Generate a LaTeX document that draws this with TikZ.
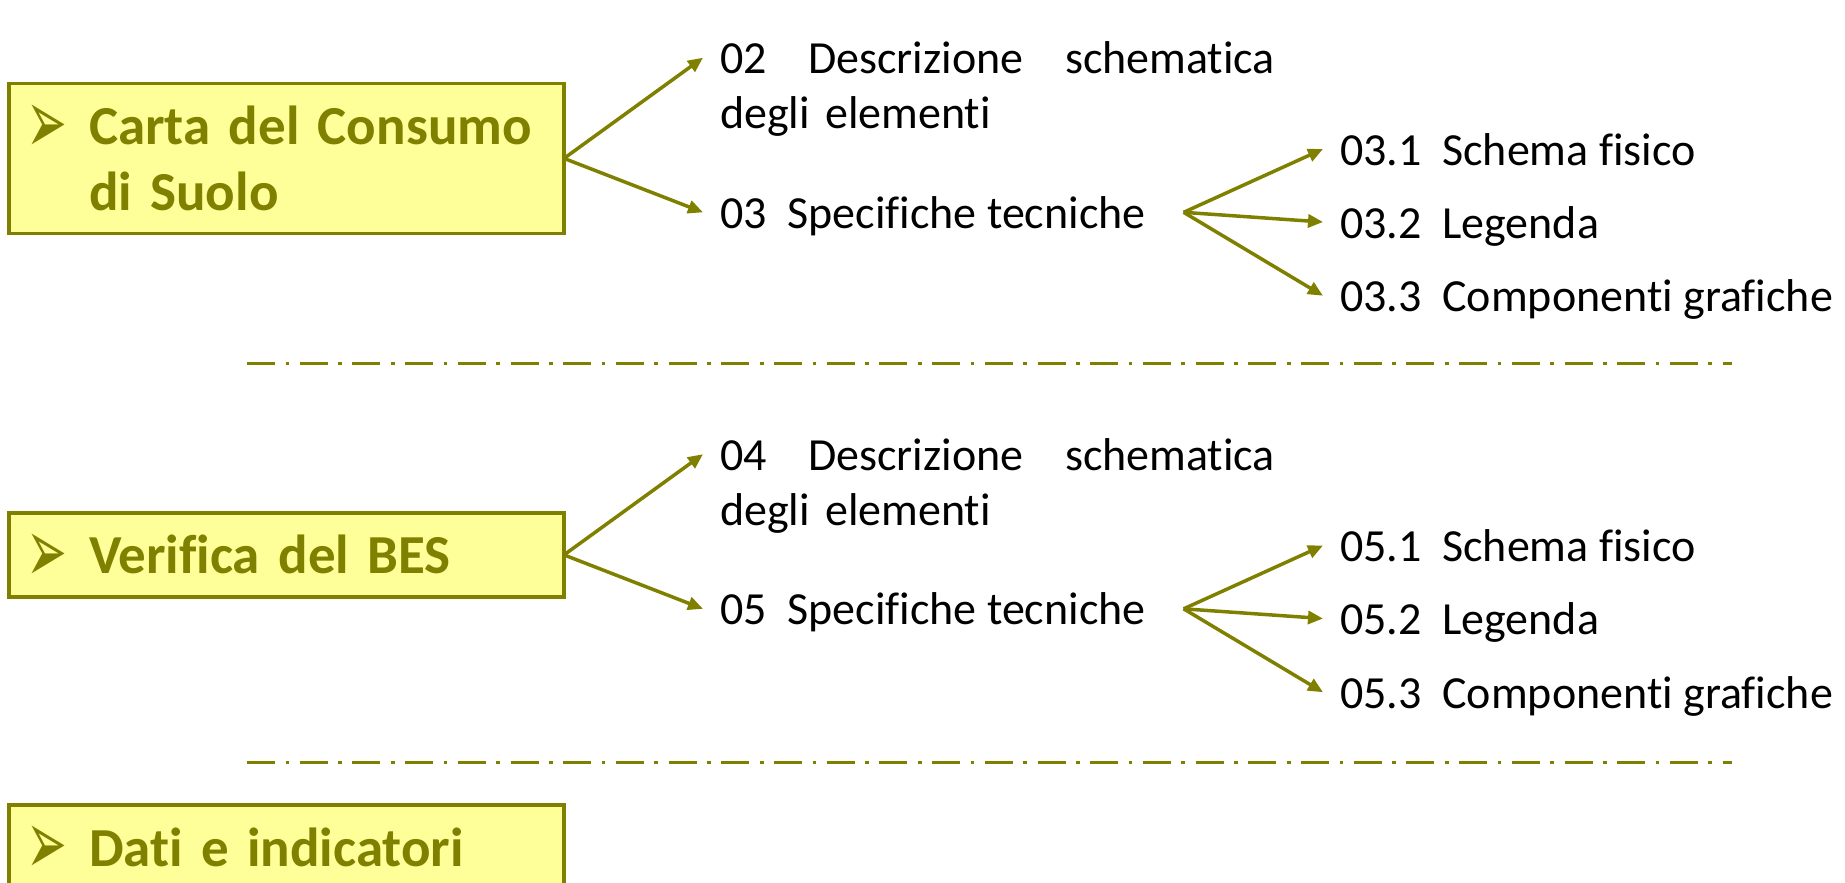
\documentclass[tikz,border=0pt]{standalone}
\usepackage{fontspec}
\setmainfont[Ligatures=NoCommon]{Carlito}
\newfontfamily\titlefont[Ligatures=NoCommon, WordSpace=0.6]{Carlito}
\newfontfamily\bulfont{DejaVu Sans}
\usepackage{xcolor}
\usetikzlibrary{arrows.meta, positioning}
\definecolor{oliva}{HTML}{808000}
\definecolor{giallino}{HTML}{FFFF99}
\newcommand{\freccia}{\makebox[59pt][l]{\hspace*{-3.5pt}\raisebox{-8.6pt}[0pt][0pt]{\resizebox{40.9pt}{48.6pt}{\bulfont ➢}}}}

\begin{document}
\begin{tikzpicture}[
    x=1pt, y=-1pt,
    titolo/.style={rectangle, draw=oliva, fill=giallino, line width=3.5pt, outer sep=0pt,
                   minimum width=555pt, inner xsep=21pt, text width=513pt, align=left,
                   text=oliva, font=\titlefont\fontsize{55}{66}\selectfont\bfseries},
    voce/.style={inner xsep=17pt, inner ysep=0pt, outer sep=0pt, text depth=0pt,
                 font=\fontsize{46}{55}\selectfont},
    arrow/.style={-{Triangle[length=15pt, width=13pt]}, line width=3.5pt, color=oliva},
    separatore/.style={line width=3pt, color=oliva,
                       dash pattern=on 28pt off 10.5pt on 3.7pt off 10.5pt},
]
\useasboundingbox (0,0) rectangle (1845,883);

% Carta del Consumo di Suolo
\node[titolo, minimum height=150pt, anchor=west] (carta) at (9,158.4)
    {\freccia Carta del Consumo\\\hspace*{59pt}di Suolo};
\node[voce, align=left, text width=555pt, anchor=west] (desc02) at (703,57.7)
    {02\hfill Descrizione\hfill schematica\\degli elementi};
\node[voce, anchor=base west] (spec03) at (703,228.3) {03~~Specifiche tecniche};
\coordinate (fork03) at ([xshift=21pt]spec03.east);
\node[voce, anchor=base west] (s031) at (1323,165) {03.1~~Schema fisico};
\node[voce, anchor=base west] (s032) at (1323,238) {03.2~~Legenda};
\node[voce, anchor=base west] (s033) at (1323,311.7) {03.3~~Componenti grafiche};

\draw[arrow] (carta.east) -- (desc02.west);
\draw[arrow] (carta.east) -- (spec03.west);
\draw[arrow] (fork03) -- (s031.west);
\draw[arrow] (fork03) -- (s032.west);
\draw[arrow] (fork03) -- (s033.west);

\draw[separatore] (247,363) -- (1732,363);

% Verifica del BES
\node[titolo, minimum height=84pt, anchor=west] (bes) at (9,554.9) {\freccia Verifica del BES};
\node[voce, align=left, text width=555pt, anchor=west] (desc04) at (703,454.2)
    {04\hfill Descrizione\hfill schematica\\degli elementi};
\node[voce, anchor=base west] (spec05) at (703,624.8) {05~~Specifiche tecniche};
\coordinate (fork05) at ([xshift=21pt]spec05.east);
\node[voce, anchor=base west] (s051) at (1323,561.5) {05.1~~Schema fisico};
\node[voce, anchor=base west] (s052) at (1323,634.5) {05.2~~Legenda};
\node[voce, anchor=base west] (s053) at (1323,708.2) {05.3~~Componenti grafiche};

\draw[arrow] (bes.east) -- (desc04.west);
\draw[arrow] (bes.east) -- (spec05.west);
\draw[arrow] (fork05) -- (s051.west);
\draw[arrow] (fork05) -- (s052.west);
\draw[arrow] (fork05) -- (s053.west);

\draw[separatore] (247,762) -- (1732,762);

% Dati e indicatori
\node[titolo, minimum height=84pt, anchor=west] (dati) at (9,847) {\freccia Dati e indicatori};

\end{tikzpicture}
\end{document}
